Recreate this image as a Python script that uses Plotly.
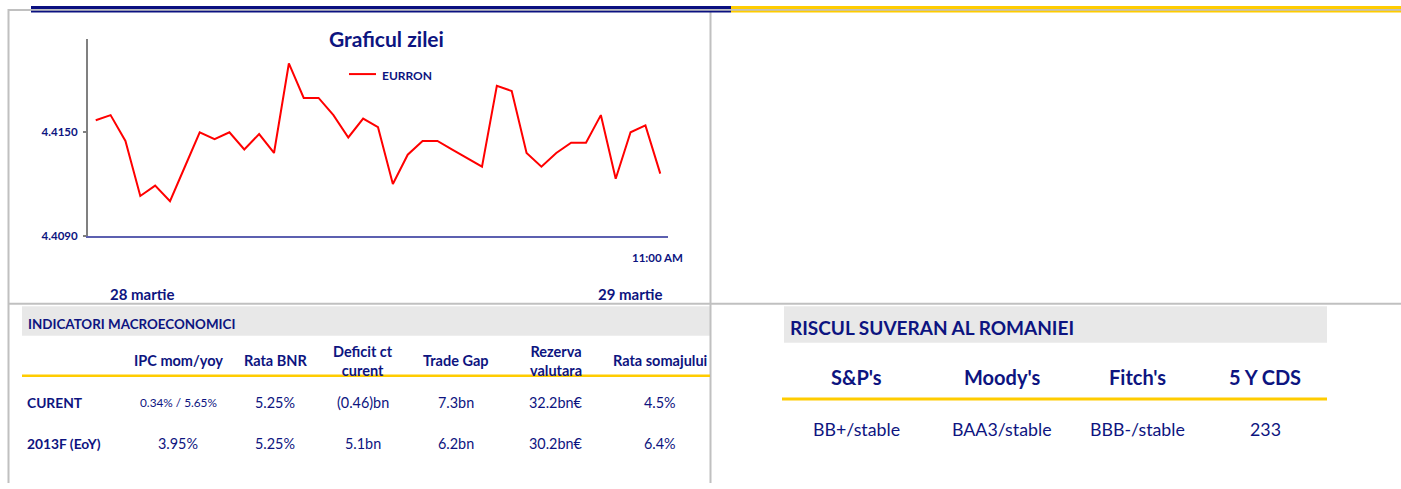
import plotly.graph_objects as go

W, H = 1401, 489

# ---------------- data ----------------
series_name = "EURRON"
eurron = [4.4157, 4.4160, 4.4145, 4.4113, 4.4119, 4.4110, 4.4130, 4.4150, 4.4146, 4.4150,
          4.4140, 4.4149, 4.4138, 4.4190, 4.4170, 4.4170, 4.4160, 4.4147, 4.4158, 4.4153,
          4.4120, 4.4137, 4.4145, 4.4145, 4.4140, 4.4135, 4.4130, 4.4177, 4.4174, 4.4138,
          4.4130, 4.4138, 4.4144, 4.4144, 4.4160, 4.4123, 4.4150, 4.4154, 4.4126]
y_ticks = [4.4090, 4.4150]
y_range = [4.4090, 4.42045]
chart_title = "Graficul zilei"
time_label = "11:00 AM"
date_labels = ["28 martie", "29 martie"]

macro_title = "INDICATORI MACROECONOMICI"
macro_cols = ["IPC mom/yoy", "Rata BNR", "Deficit ct<br>curent", "Trade Gap", "Rezerva<br>valutara", "Rata somajului"]
macro_rows = ["CURENT", "2013F (EoY)"]
macro_curent = ["0.34% / 5.65%", "5.25%", "(0.46)bn", "7.3bn", "32.2bn€", "4.5%"]
macro_2013f = ["3.95%", "5.25%", "5.1bn", "6.2bn", "30.2bn€", "6.4%"]

risk_title = "RISCUL SUVERAN AL ROMANIEI"
risk_cols = ["S&P's", "Moody's", "Fitch's", "5 Y CDS"]
risk_vals = ["BB+/stable", "BAA3/stable", "BBB-/stable", "233"]

# ---------------- styling helpers ----------------
NAVY = "#0d1480"
FONT = "Lato"


def px(x):
    return x / W


def py(y):
    return 1 - y / H


fig = go.Figure()
fig.add_trace(go.Scatter(
    x=list(range(len(eurron))), y=eurron, mode="lines", name=series_name,
    line=dict(color="#ff0000", width=2), showlegend=False, hoverinfo="skip"))

fig.update_layout(
    width=W, height=H, margin=dict(l=0, r=0, t=0, b=0),
    paper_bgcolor="white", plot_bgcolor="white",
    font=dict(family=FONT, color=NAVY),
    xaxis=dict(domain=[px(88), px(668)], range=[-0.52, len(eurron) - 1 + 0.52],
               showgrid=False, zeroline=False, showticklabels=False, ticks="",
               showline=True, linecolor="#5c60b0", linewidth=1.5),
    yaxis=dict(domain=[py(238.5), py(39)], range=y_range, showgrid=False, zeroline=False,
               tickvals=y_ticks, ticktext=[f"{v:.4f}" for v in y_ticks],
               ticks="outside", ticklen=3, tickcolor="#808080", tickwidth=1.5,
               ticklabelstandoff=3,
               tickfont=dict(family=FONT, size=11.5, color=NAVY, weight="bold"),
               showline=True, linecolor="#808080", linewidth=2),
)

shapes = []
GRAY = "#c0c0c0"
# page borders
shapes.append(dict(type="line", xref="paper", yref="paper", x0=px(8.5), x1=px(W), y0=py(10), y1=py(10), line=dict(color=GRAY, width=2)))
shapes.append(dict(type="line", xref="paper", yref="paper", x0=px(8.5), x1=px(8.5), y0=py(9), y1=py(H), line=dict(color=GRAY, width=2)))
shapes.append(dict(type="line", xref="paper", yref="paper", x0=px(710.5), x1=px(710.5), y0=py(9), y1=py(H), line=dict(color=GRAY, width=2)))
shapes.append(dict(type="line", xref="paper", yref="paper", x0=px(8.5), x1=px(W), y0=py(307.5), y1=py(307.5), line=dict(color=GRAY, width=2)))
# header bars
for x0, x1, col in [(31, 731, "#0a1080"), (731, W, "#ffcc00")]:
    shapes.append(dict(type="rect", xref="paper", yref="paper", x0=px(x0), x1=px(x1), y0=py(9), y1=py(6), fillcolor=col, line=dict(width=0)))
    shapes.append(dict(type="rect", xref="paper", yref="paper", x0=px(x0), x1=px(x1), y0=py(12.7), y1=py(11), fillcolor=col, line=dict(width=0)))
# table header bands
shapes.append(dict(type="rect", xref="paper", yref="paper", x0=px(22), x1=px(710), y0=py(340), y1=py(310), fillcolor="#e8e8e8", line=dict(width=0), layer="below"))
shapes.append(dict(type="rect", xref="paper", yref="paper", x0=px(784), x1=px(1327), y0=py(347), y1=py(310), fillcolor="#e8e8e8", line=dict(width=0), layer="below"))
# yellow separators
shapes.append(dict(type="line", xref="paper", yref="paper", x0=px(22), x1=px(710), y0=py(380.5), y1=py(380.5), line=dict(color="#ffcc00", width=2.5)))
shapes.append(dict(type="line", xref="paper", yref="paper", x0=px(782), x1=px(1327), y0=py(404), y1=py(404), line=dict(color="#ffcc00", width=3)))
# legend line
shapes.append(dict(type="line", xref="paper", yref="paper", x0=px(349), x1=px(376), y0=py(75), y1=py(75), line=dict(color="#ff0000", width=2)))
fig.update_layout(shapes=shapes)

ann = []


def text(x, y, s, size, bold=False, anchor="center"):
    ann.append(dict(xref="paper", yref="paper", x=px(x), y=py(y), text=s, showarrow=False,
                    xanchor=anchor, yanchor="middle", align="center",
                    font=dict(family=FONT, size=size, color=NAVY, weight="bold" if bold else "normal")))


# chart texts
text(387, 39, chart_title, 21, True)
text(380, 76, series_name, 12, True, "left")
text(657, 261, time_label, 11.5, True)
text(142, 298, date_labels[0], 15, True)
text(630, 298, date_labels[1], 15, True)

# macro table
text(26, 328, macro_title, 13.4, True, "left")
macro_x = [178, 275, 363, 456, 556, 660]
for cx, c in zip(macro_x, macro_cols):
    text(cx, 365, c, 14.5, True)
text(25, 407, macro_rows[0], 13.8, True, "left")
text(25, 449, macro_rows[1], 13.8, True, "left")
for i, (cx, v) in enumerate(zip(macro_x, macro_curent)):
    text(cx, 407, v, 11.8 if i == 0 else 14.4)
for cx, v in zip(macro_x, macro_2013f):
    text(cx, 449, v, 14.4)

# risk table
text(788, 332, risk_title, 19, True, "left")
risk_x = [856, 1002, 1137, 1265]
for cx, c in zip(risk_x, risk_cols):
    text(cx, 382, c, 20, True)
for cx, v in zip(risk_x, risk_vals):
    text(cx, 434, v, 17.8)

fig.update_layout(annotations=ann)
fig.write_html("out.html", config={"displayModeBar": False},
               post_script="document.body.style.margin='0';document.body.style.overflow='hidden';")
